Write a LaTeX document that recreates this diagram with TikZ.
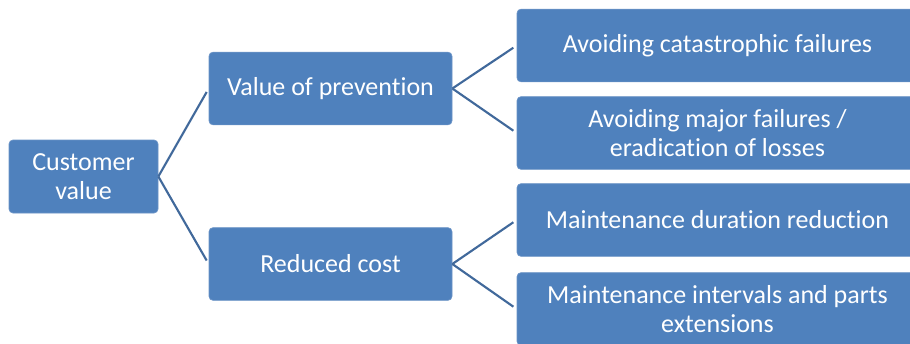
\documentclass[tikz,border=0pt]{standalone}
\usepackage{fontspec}
\setmainfont[Ligatures={NoCommon}]{Carlito}
\definecolor{boxblue}{HTML}{4F81BD}
\definecolor{boxedge}{HTML}{6A93C6}
\definecolor{linkblue}{HTML}{41699B}
\begin{document}
\begin{tikzpicture}[x=0.75pt,y=-0.75pt,
  box/.style={draw=boxedge, line width=0.5pt, fill=boxblue, rounded corners=3pt,
    text=white, align=center, inner sep=0pt,
    font=\fontsize{19.5}{22}\selectfont},
  rootbox/.style={box, minimum width=111.75pt, minimum height=54.75pt},
  midbox/.style={box, minimum width=182.25pt, minimum height=54.5pt},
  leafbox/.style={box, minimum width=300.75pt, minimum height=54.5pt},
  link/.style={draw=linkblue, line width=1.6pt, shorten >=3pt}]
\path[use as bounding box, clip] (0,0) rectangle (910,343);

% tree nodes
\node[rootbox] (cv) at (83.5,176.5) {Customer\\value};
\node[midbox] (vp) at (330.5,88.5) {Value of prevention};
\node[midbox] (rc) at (330.5,264) {Reduced cost};
\node[leafbox] (ac) at (717.5,45.5) {Avoiding catastrophic failures};
\node[leafbox] (am) at (717.5,133) {Avoiding major failures /\\eradication of losses};
\node[leafbox] (md) at (717.5,220) {Maintenance duration reduction};
\node[leafbox] (mi) at (717.5,309) {Maintenance intervals and parts\\extensions};

% branches
\draw[link] (cv.east) -- (vp.west);
\draw[link] (cv.east) -- (rc.west);
\draw[link] (vp.east) -- (ac.west);
\draw[link] (vp.east) -- (am.west);
\draw[link] (rc.east) -- (md.west);
\draw[link] (rc.east) -- (mi.west);
\end{tikzpicture}
\end{document}
